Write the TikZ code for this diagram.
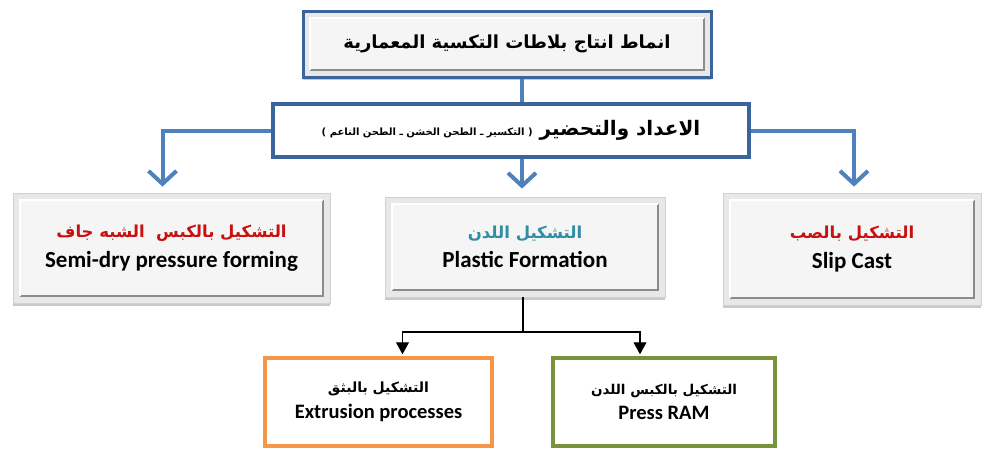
\documentclass[tikz,border=0pt]{standalone}
\usepackage{fontspec}
\setmainfont{Carlito}
\newfontfamily\arabicfont[Script=Arabic]{DejaVu Sans}
\TeXXeTstate=1
\usetikzlibrary{arrows.meta,calc,shadows}
\definecolor{lineblue}{RGB}{79,129,189}
\definecolor{borderblue}{RGB}{60,100,155}
\definecolor{arred}{RGB}{200,16,16}
\definecolor{arteal}{RGB}{49,140,165}
\definecolor{orangeb}{RGB}{247,150,70}
\definecolor{greenb}{RGB}{119,147,60}
\newcommand\ar[1]{{\arabicfont\bfseries\beginR #1\endR}}
\tikzset{
  bevelbox/.style={rectangle, fill=black!9, draw=black!18, line width=0.8pt,
    drop shadow={shadow xshift=0pt, shadow yshift=-3pt, opacity=0.35, fill=black!60},
    align=center, inner sep=0pt,
    path picture={
      \fill[black!4] ([shift={(7,7)}]path picture bounding box.north west) rectangle ([shift={(-7,-7)}]path picture bounding box.south east);
      \draw[black!45, line width=1.5pt] ([shift={(7,-7)}]path picture bounding box.south west) -- ([shift={(-7,-7)}]path picture bounding box.south east) -- ([shift={(-7,7)}]path picture bounding box.north east);
      \draw[white, line width=1.2pt] ([shift={(7,-7)}]path picture bounding box.south west) -- ([shift={(7,7)}]path picture bounding box.north west) -- ([shift={(-7,7)}]path picture bounding box.north east);
    }},
  titlebox/.style={bevelbox, draw=borderblue, line width=3pt, drop shadow={shadow xshift=0pt, shadow yshift=-2pt, opacity=0.2}},
  prepbox/.style={rectangle, draw=borderblue, line width=3.5pt, fill=white, align=center, inner sep=0pt},
  colbox/.style={rectangle, line width=3.5pt, fill=white, align=center, inner sep=0pt},
  blueline/.style={draw=lineblue, line width=4pt},
  bluearrow/.style={blueline, -{Straight Barb[length=13pt, width=28pt]}},
  blackarrow/.style={draw=black, line width=1.1pt, -{Triangle[length=12pt, width=13pt]}},
}
\begin{document}
\begin{tikzpicture}[x=1pt,y=-1pt]
\useasboundingbox (0,0) rectangle (984,448);
\fill[white] (0,0) rectangle (984,448);

\node[titlebox, minimum width=408pt, minimum height=66pt] (top) at (507,44)
  {\fontsize{18}{22}\selectfont\ar{انماط انتاج بلاطات التكسية المعمارية}};

\node[prepbox, minimum width=476pt, minimum height=53pt] (prep) at (511,130.5)
  {{\fontsize{20}{22}\selectfont\ar{الاعداد والتحضير \fontsize{10}{14}\selectfont ( التكسير ـ الطحن الخشن ـ الطحن الناعم )}}};

\node[bevelbox, minimum width=317pt, minimum height=110pt] (semi) at (171.5,248)
  {\fontsize{16.5}{20}\selectfont\textcolor{arred}{\ar{التشكيل بالكبس \ الشبه جاف}}\\[9pt]
   \fontsize{23}{26}\selectfont\bfseries Semi-dry pressure forming};

\node[bevelbox, minimum width=280pt, minimum height=100pt] (plastic) at (525,247)
  {\fontsize{16.5}{20}\selectfont\textcolor{arteal}{\ar{التشكيل اللدن}}\\[9pt]
   \fontsize{23}{26}\selectfont\bfseries Plastic Formation};

\node[bevelbox, minimum width=258pt, minimum height=112pt] (slip) at (852,249)
  {\fontsize{16.5}{20}\selectfont\textcolor{arred}{\ar{التشكيل بالصب}}\\[9pt]
   \fontsize{23}{26}\selectfont\bfseries Slip Cast};

\node[colbox, draw=orangeb, minimum width=227pt, minimum height=88pt] (extr) at (378.5,402)
  {\fontsize{14}{16}\selectfont\ar{التشكيل بالبثق}\\[7pt]
   \fontsize{20.5}{22}\selectfont\bfseries Extrusion processes};

\node[colbox, draw=greenb, minimum width=222pt, minimum height=88pt] (press) at (664,402)
  {\fontsize{13.5}{16}\selectfont\ar{التشكيل بالكبس اللدن}\\[7pt]
   \fontsize{20.5}{22}\selectfont\bfseries Press RAM};

% blue connectors
\draw[blueline] (top.south -| 522,0) -- (prep.north -| 522,0);
\draw[bluearrow] (prep.south -| 522,0) -- ([yshift=8pt]plastic.north -| 522,0);
\draw[bluearrow] (prep.west) -| ([xshift=-9pt,yshift=6pt]semi.north);
\draw[bluearrow] (prep.east) -| ([xshift=2pt,yshift=6pt]slip.north);

% black connectors
\coordinate (split) at (523,332);
\draw[line width=1.1pt] (plastic.south -| split) -- (split);
\draw[blackarrow] (split) -| ([xshift=24pt,yshift=2pt]extr.north);
\draw[blackarrow] (split) -| ([xshift=-24pt,yshift=2pt]press.north);
\end{tikzpicture}
\end{document}
